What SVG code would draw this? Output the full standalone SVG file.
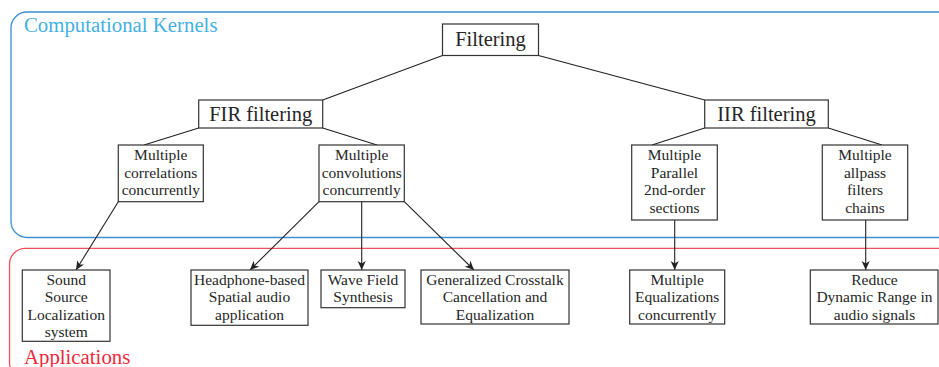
<svg xmlns="http://www.w3.org/2000/svg" width="939" height="367" viewBox="0 0 939 367">
  <style>
    .box { fill: #ffffff; stroke: #333333; stroke-width: 1.2; }
    .lbl { fill: #262626; text-anchor: middle; }
    .big { font-size: 20.5px; }
    .sm { font-size: 15.5px; }
    .edge { fill: none; stroke: #222222; stroke-width: 1.1; }
    .arrow { marker-end: url(#tip); }
    .frame-k { fill: none; stroke: #3d8fd4; stroke-width: 1.3; }
    .frame-a { fill: none; stroke: #f2505c; stroke-width: 1.3; }
    .title { font-size: 20.8px; }
  </style>
  <defs>
    <marker id="tip" viewBox="0 0 10 10" refX="10" refY="5" markerWidth="9" markerHeight="9" markerUnits="userSpaceOnUse" orient="auto">
      <path d="M0,0.5 L10,5 L0,9.5 L2.8,5 Z" fill="#222222"/>
    </marker>
  </defs>

  <rect width="939" height="367" fill="#ffffff"/>

  <g font-family="'Liberation Serif', serif">
  <!-- grouping frames -->
  <g id="frame-kernels">
    <rect class="frame-k" x="11" y="12" width="960" height="225.5" rx="16" ry="16"/>
    <text class="title" x="24" y="31.5" fill="#45b0e2">Computational Kernels</text>
  </g>
  <g id="frame-applications">
    <rect class="frame-a" x="9.5" y="248.3" width="960" height="130" rx="16" ry="16"/>
    <text class="title" x="24" y="363.5" fill="#ee2a3a" font-size="20.2px">Applications</text>
  </g>

  <!-- connectors -->
  <g id="connectors">
    <line class="edge" x1="442.5" y1="55.5" x2="322.7" y2="100"/>
    <line class="edge" x1="538.5" y1="55.5" x2="704.7" y2="100"/>
    <line class="edge" x1="198.7" y1="128" x2="144" y2="145"/>
    <line class="edge" x1="322.7" y1="128" x2="377" y2="145"/>
    <line class="edge" x1="704.7" y1="128" x2="652" y2="145"/>
    <line class="edge" x1="828.3" y1="128" x2="882" y2="145"/>
    <line class="edge arrow" x1="118.3" y1="201.7" x2="76" y2="270"/>
    <line class="edge arrow" x1="319" y1="201.7" x2="250" y2="270"/>
    <line class="edge arrow" x1="361.7" y1="201.7" x2="361.7" y2="270"/>
    <line class="edge arrow" x1="404.3" y1="201.7" x2="474" y2="270"/>
    <line class="edge arrow" x1="674.7" y1="220" x2="674.7" y2="270"/>
    <line class="edge arrow" x1="865.7" y1="220" x2="865.7" y2="270"/>
  </g>

  <!-- kernel tree -->
  <g id="filtering">
    <rect class="box" x="442.5" y="24" width="96" height="31.5"/>
    <text class="lbl big" x="490.5" y="45.5">Filtering</text>
  </g>
  <g id="fir-filtering">
    <rect class="box" x="198.7" y="100" width="124" height="28"/>
    <text class="lbl big" x="260.7" y="120.5">FIR filtering</text>
  </g>
  <g id="iir-filtering">
    <rect class="box" x="704.7" y="100" width="123.6" height="28"/>
    <text class="lbl big" x="766.5" y="120.5">IIR filtering</text>
  </g>
  <g id="multiple-correlations">
    <rect class="box" x="118.3" y="145" width="85" height="56.7"/>
    <text class="lbl sm" x="160.8" y="160">Multiple</text>
    <text class="lbl sm" x="160.8" y="177.5">correlations</text>
    <text class="lbl sm" x="160.8" y="195">concurrently</text>
  </g>
  <g id="multiple-convolutions">
    <rect class="box" x="319" y="145" width="85.3" height="56.7"/>
    <text class="lbl sm" x="361.7" y="160">Multiple</text>
    <text class="lbl sm" x="361.7" y="177.5">convolutions</text>
    <text class="lbl sm" x="361.7" y="195">concurrently</text>
  </g>
  <g id="parallel-sections">
    <rect class="box" x="631.7" y="145" width="85.6" height="75"/>
    <text class="lbl sm" x="674.5" y="160">Multiple</text>
    <text class="lbl sm" x="674.5" y="177.5">Parallel</text>
    <text class="lbl sm" x="674.5" y="195">2nd-order</text>
    <text class="lbl sm" x="674.5" y="212.5">sections</text>
  </g>
  <g id="allpass-chains">
    <rect class="box" x="822.3" y="145" width="85.4" height="75"/>
    <text class="lbl sm" x="865" y="160">Multiple</text>
    <text class="lbl sm" x="865" y="177.5">allpass</text>
    <text class="lbl sm" x="865" y="195">filters</text>
    <text class="lbl sm" x="865" y="212.5">chains</text>
  </g>

  <!-- applications -->
  <g id="sound-source-localization">
    <rect class="box" x="22.3" y="270" width="87.7" height="71.3"/>
    <text class="lbl sm" x="66.2" y="284.5">Sound</text>
    <text class="lbl sm" x="66.2" y="302">Source</text>
    <text class="lbl sm" x="66.2" y="319.5">Localization</text>
    <text class="lbl sm" x="66.2" y="337">system</text>
  </g>
  <g id="headphone-spatial-audio">
    <rect class="box" x="191" y="270" width="117" height="55.3"/>
    <text class="lbl sm" x="249.5" y="284.5">Headphone-based</text>
    <text class="lbl sm" x="249.5" y="302">Spatial audio</text>
    <text class="lbl sm" x="249.5" y="319.5">application</text>
  </g>
  <g id="wave-field-synthesis">
    <rect class="box" x="321" y="270" width="84" height="37.7"/>
    <text class="lbl sm" x="363" y="284.5">Wave Field</text>
    <text class="lbl sm" x="363" y="302">Synthesis</text>
  </g>
  <g id="crosstalk-cancellation">
    <rect class="box" x="421" y="270" width="148" height="54"/>
    <text class="lbl sm" x="495" y="284.5">Generalized Crosstalk</text>
    <text class="lbl sm" x="495" y="302">Cancellation and</text>
    <text class="lbl sm" x="495" y="319.5">Equalization</text>
  </g>
  <g id="multiple-equalizations">
    <rect class="box" x="629.7" y="270" width="95" height="54"/>
    <text class="lbl sm" x="677.2" y="284.5">Multiple</text>
    <text class="lbl sm" x="677.2" y="302">Equalizations</text>
    <text class="lbl sm" x="677.2" y="319.5">concurrently</text>
  </g>
  <g id="reduce-dynamic-range">
    <rect class="box" x="810.3" y="270" width="127.7" height="54"/>
    <text class="lbl sm" x="874.5" y="284.5">Reduce</text>
    <text class="lbl sm" x="874.5" y="302">Dynamic Range in</text>
    <text class="lbl sm" x="874.5" y="319.5">audio signals</text>
  </g>
  </g>
</svg>
